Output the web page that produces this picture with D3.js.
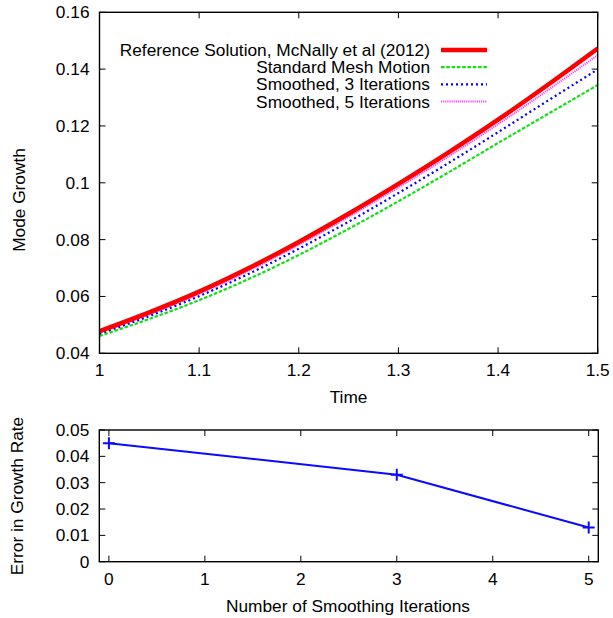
<!DOCTYPE html>
<html><head><meta charset="utf-8">
<script src="https://cdn.jsdelivr.net/npm/d3@7/dist/d3.min.js"></script>
<style>body{margin:0;background:#fff}svg{display:block}text{font-family:"Liberation Sans",Arial,sans-serif;fill:#000}</style>
</head><body><svg id="c" width="613" height="618"></svg>
<script>
const time = [1.00,1.05,1.10,1.15,1.20,1.25,1.30,1.35,1.40,1.45,1.50];
const reference = [0.0478,0.0544,0.0617,0.0700,0.0792,0.0891,0.0996,0.1106,0.1222,0.1345,0.1473];
const standard  = [0.0461,0.0521,0.0587,0.0662,0.0746,0.0838,0.0935,0.1036,0.1140,0.1242,0.1344];
const smooth3   = [0.0468,0.0531,0.0601,0.0680,0.0768,0.0863,0.0964,0.1069,0.1178,0.1289,0.1399];
const smooth5   = [0.0472,0.0537,0.0609,0.0691,0.0782,0.0880,0.0984,0.1092,0.1206,0.1326,0.1449];
const seriesNames = ["Reference Solution, McNally et al (2012)","Standard Mesh Motion","Smoothed, 3 Iterations","Smoothed, 5 Iterations"];
const topXTicks = [1,1.1,1.2,1.3,1.4,1.5];
const topYTicks = [0.04,0.06,0.08,0.1,0.12,0.14,0.16];
const iterations = [0,3,5];
const errorRate = [0.045,0.033,0.013];
const botXTicks = [0,1,2,3,4,5];
const botYTicks = [0,0.01,0.02,0.03,0.04,0.05];

const svg = d3.select("#c");
const FS = 17.3;
const styles = [
  {color:"#ff0000", width:4.5, dash:null},
  {color:"#11e011", width:2.2, dash:"3.5,1.8"},
  {color:"#0000ff", width:2.2, dash:"2,3"},
  {color:"#ff44ff", width:2, dash:"1.2,0.9"}
];
const allSeries = [reference, standard, smooth3, smooth5];

function frame(g, x, y, xt, yt, xfmt, yfmt, tl){
  const [x0,x1] = x.range(), [y0,y1] = y.range();
  g.selectAll(".tx").data(xt).join("line").attr("x1",d=>x(d)).attr("x2",d=>x(d))
    .attr("y1",y0).attr("y2",y0-tl).attr("stroke","#000").attr("stroke-width",1);
  g.selectAll(".txt").data(xt).join("line").attr("x1",d=>x(d)).attr("x2",d=>x(d))
    .attr("y1",y1).attr("y2",y1+tl).attr("stroke","#000").attr("stroke-width",1);
  g.selectAll(".ty").data(yt).join("line").attr("y1",d=>y(d)).attr("y2",d=>y(d))
    .attr("x1",x0).attr("x2",x0+tl).attr("stroke","#000").attr("stroke-width",1);
  g.selectAll(".tyr").data(yt).join("line").attr("y1",d=>y(d)).attr("y2",d=>y(d))
    .attr("x1",x1).attr("x2",x1-tl).attr("stroke","#000").attr("stroke-width",1);
  g.append("rect").attr("x",x0).attr("y",y1).attr("width",x1-x0).attr("height",y0-y1)
    .attr("fill","none").attr("stroke","#000").attr("stroke-width",1.4);
  g.selectAll(".xl").data(xt).join("text").attr("x",d=>x(d)).attr("y",y0+23)
    .attr("text-anchor","middle").attr("font-size",FS).text(xfmt);
  g.selectAll(".yl").data(yt).join("text").attr("x",x0-10).attr("y",d=>y(d)+6)
    .attr("text-anchor","end").attr("font-size",FS).text(yfmt);
}

// top chart
const xT = d3.scaleLinear().domain([1,1.5]).range([99.5,597.7]);
const yT = d3.scaleLinear().domain([0.04,0.16]).range([353.3,12.3]);
const gT = svg.append("g");
svg.append("clipPath").attr("id","ct").append("rect")
  .attr("x",99.5).attr("y",12.3).attr("width",498.2).attr("height",341);
const lineT = d3.line().x((d,i)=>xT(time[i])).y(d=>yT(d)).curve(d3.curveMonotoneX);
const gLines = gT.append("g").attr("clip-path","url(#ct)");
[3,2,1,0].forEach(k=>{
  gLines.append("path").attr("d",lineT(allSeries[k])).attr("fill","none")
    .attr("stroke",styles[k].color).attr("stroke-width",styles[k].width)
    .attr("stroke-dasharray",styles[k].dash);
});
frame(gT,xT,yT,topXTicks,topYTicks,d=>d3.format("")(d),d=>d3.format("")(+d.toFixed(2)),6);
// legend
const lg = gT.append("g");
seriesNames.forEach((n,k)=>{
  const yy = 50 + k*17.2;
  lg.append("text").attr("x",430).attr("y",yy+6).attr("text-anchor","end").attr("font-size",FS).text(n);
  lg.append("line").attr("x1",441).attr("x2",487).attr("y1",yy).attr("y2",yy)
    .attr("stroke",styles[k].color).attr("stroke-width",styles[k].width).attr("stroke-dasharray",styles[k].dash);
});
gT.append("text").attr("x",xT(1.25)).attr("y",403).attr("text-anchor","middle").attr("font-size",FS).text("Time");
gT.append("text").attr("transform","translate(25,200) rotate(-90)").attr("text-anchor","middle").attr("font-size",FS).text("Mode Growth");

// bottom chart
const xB = d3.scaleLinear().domain([-0.1,5.1]).range([99.3,598.3]);
const yB = d3.scaleLinear().domain([0,0.05]).range([561.7,430]);
const gB = svg.append("g");
gB.append("path").datum(errorRate).attr("d",d3.line().x((d,i)=>xB(iterations[i])).y(d=>yB(d)))
  .attr("fill","none").attr("stroke","#0a0aff").attr("stroke-width",2);
gB.selectAll(".pt").data(errorRate).join("path")
  .attr("d",(d,i)=>{const px=xB(iterations[i]),py=yB(d);return `M${px-6},${py}H${px+6}M${px},${py-6}V${py+6}`;})
  .attr("stroke","#0a0aff").attr("stroke-width",2).attr("fill","none");
frame(gB,xB,yB,botXTicks,botYTicks,d=>d,d=>d3.format("")(+d.toFixed(2)),6);
gB.append("text").attr("x",348).attr("y",612).attr("text-anchor","middle").attr("font-size",FS).text("Number of Smoothing Iterations");
gB.append("text").attr("transform","translate(23,496) rotate(-90)").attr("text-anchor","middle").attr("font-size",FS).text("Error in Growth Rate");
</script></body></html>
